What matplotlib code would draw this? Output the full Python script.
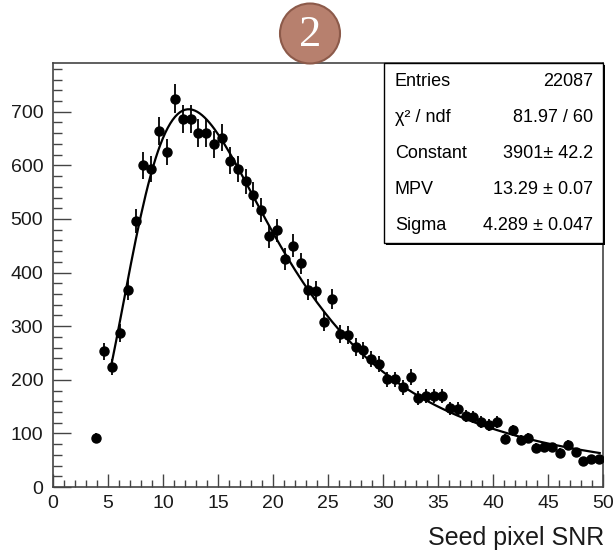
import numpy as np
import matplotlib
matplotlib.use("Agg")
import matplotlib.pyplot as plt
from matplotlib.patches import Rectangle, Ellipse
from matplotlib.ticker import MultipleLocator

plt.rcParams["font.family"] = ["Liberation Sans", "DejaVu Sans"]

# histogram: 70 bins over 0..50, first filled bin is index 5
n_bins = 70
x_lo, x_hi = 0.0, 50.0
first_bin = 5
counts = [
    92, 253, 224, 287, 368, 497, 600, 594, 664, 625,
    724, 687, 686, 660, 660, 639, 652, 609, 594, 570,
    545, 517, 468, 479, 425, 450, 417, 368, 366, 308,
    350, 286, 284, 261, 255, 239, 230, 201, 201, 186,
    205, 166, 170, 170, 170, 147, 146, 132, 131, 121,
    116, 121, 89, 106, 88, 92, 73, 74, 74, 64,
    78, 65, 48, 52, 52,
]

# Landau fit result
fit_entries = 22087
fit_chi2, fit_ndf = 81.97, 60
fit_const, fit_const_err = 3901, 42.2
fit_mpv, fit_mpv_err = 13.29, 0.07
fit_sigma, fit_sigma_err = 4.289, 0.047
fit_range = (5.3, 49.7)

stat_names = ["Entries", "χ² / ndf", "Constant", "MPV", "Sigma"]
stat_values = [
    f"{fit_entries}",
    f"{fit_chi2:.2f} / {fit_ndf}",
    f"{fit_const}± {fit_const_err}",
    f"{fit_mpv:.2f} ± {fit_mpv_err:.2f}",
    f"{fit_sigma:.3f} ± {fit_sigma_err:.3f}",
]


def landau_pdf(lam):
    # p(l) = 1/pi * int_0^inf exp(-t ln t - l t) sin(pi t) dt
    t = np.linspace(1e-12, 40.0, 16001)
    integrand = np.exp(-t * np.log(t) - np.outer(lam, t)) * np.sin(np.pi * t)
    return np.trapezoid(integrand, t, axis=1) / np.pi


W, H = 616, 553
fig = plt.figure(figsize=(W / 100, H / 100), dpi=100)
ax_l, ax_r, ax_t, ax_b = 53, 603, 63, 487
ax = fig.add_axes([ax_l / W, 1 - ax_b / H, (ax_r - ax_l) / W, (ax_b - ax_t) / H])

width = (x_hi - x_lo) / n_bins
y = np.array(counts, dtype=float)
centers = x_lo + (np.arange(first_bin, first_bin + len(y)) + 0.5) * width
ax.errorbar(centers, y, yerr=np.sqrt(y), fmt="o", color="black", ms=6.5,
            elinewidth=1.3, capsize=0, zorder=3)

xf = np.linspace(fit_range[0], fit_range[1], 200)
yf = fit_const * landau_pdf((xf - fit_mpv) / fit_sigma)
ax.plot(xf, yf, color="black", lw=1.6, zorder=4)

ax.set_xlim(x_lo, x_hi)
ax.set_ylim(0, 791)
ax.xaxis.set_major_locator(MultipleLocator(5))
ax.xaxis.set_minor_locator(MultipleLocator(1))
ax.yaxis.set_major_locator(MultipleLocator(100))
ax.yaxis.set_minor_locator(MultipleLocator(20))
edge = "#444444"
for s in ax.spines.values():
    s.set_color(edge)
    s.set_linewidth(1.2)
ax.tick_params(axis="both", which="both", direction="in", colors=edge,
               labelcolor="#1a1a1a", labelsize=14, top=False, right=False)
ax.tick_params(axis="y", which="major", length=13, width=1.0, pad=7)
ax.tick_params(axis="y", which="minor", length=6.5, width=1.0)
ax.tick_params(axis="x", which="major", length=9.5, width=1.0, pad=6)
ax.tick_params(axis="x", which="minor", length=5, width=1.0)

fig.text(604 / W, 1 - 538 / H, "Seed pixel SNR", fontsize=18,
         ha="right", va="center", color="#1a1a1a")

# stats box with a drop shadow
def fig_xy(px, py):
    return px / W, 1 - py / H

bx0, by0, bx1, by1 = 384, 63, 603, 243
sx, sy = fig_xy(bx0 + 2, by1 + 2)
fig.add_artist(Rectangle((sx, sy), (bx1 - bx0) / W, (by1 - by0) / H,
                         transform=fig.transFigure, facecolor="black",
                         edgecolor="none", zorder=5))
rx, ry = fig_xy(bx0, by1)
fig.add_artist(Rectangle((rx, ry), (bx1 - bx0) / W, (by1 - by0) / H,
                         transform=fig.transFigure, facecolor="white",
                         edgecolor="black", lw=1.0, zorder=6))
row_h = (by1 - by0) / len(stat_names)
for i, (name, val) in enumerate(zip(stat_names, stat_values)):
    cy = by0 + row_h * (i + 0.5)
    fig.text(*fig_xy(395, cy), name, fontsize=13, ha="left", va="center", zorder=7)
    fig.text(*fig_xy(593, cy), val, fontsize=13, ha="right", va="center", zorder=7)

# numbered badge above the frame
cx, cy = fig_xy(310, 33.5)
fig.add_artist(Ellipse((cx, cy), 60 / W, 60 / H, transform=fig.transFigure,
                       facecolor="#b7806e", edgecolor="#8c5a4a", lw=1.5, zorder=8))
fig.text(cx, 1 - 35 / H, "2", fontsize=32, color="white", ha="center", va="center",
         family=["Liberation Serif", "DejaVu Serif"], zorder=9)

fig.savefig("out.png", dpi=100)
